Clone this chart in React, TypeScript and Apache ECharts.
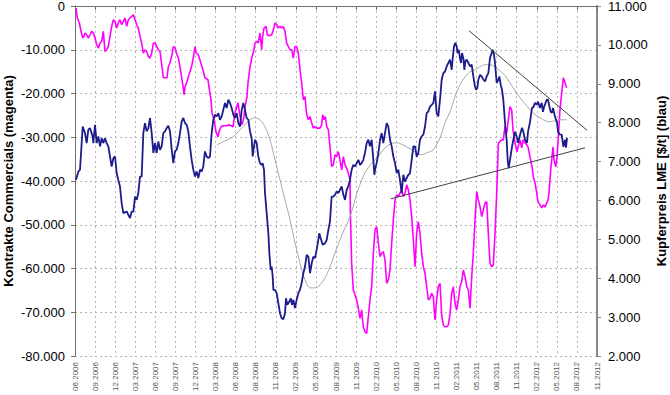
import React, { useEffect, useRef } from "react";
import * as echarts from "echarts";

// x positions are months since 06.2006 (tick every 3 months)
const tickLabels = ["06.2006","09.2006","12.2006","03.2007","06.2007","09.2007","12.2007","03.2008","06.2008","08.2008","11.2008","02.2009","05.2009","08.2009","11.2009","02.2010","05.2010","08.2010","11.2010","02.2011","05.2011","08.2011","11.2011","02.2012","05.2012","08.2012","11.2012"];

// Kupferpreis LME [$/t] (blau) – right axis
const copperPrice: [number, number][] = [
[0.15,6530],[0.5,6740],[0.75,6790],[1.15,7900],[1.49,7730],[1.74,7475],[1.99,7820],[2.24,7860],[2.64,7645],[2.74,7475],[2.99,7945],[3.24,7475],[3.49,7645],[3.74,7390],[3.99,7600],[4.23,7475],[4.48,7600],[4.73,7475],[4.98,7390],[5.23,7130],[5.48,6870],[5.73,7090],[5.98,7130],[6.23,6700],[6.47,6530],[6.72,6360],[6.97,5930],[7.22,5675],[7.72,5715],[7.97,5630],[8.22,5545],[8.47,5715],[8.72,5715],[8.97,6100],[9.22,6015],[9.46,6190],[9.71,6615],[9.96,6615],[10.21,7730],[10.46,7990],[10.71,7775],[10.96,7860],[11.21,8120],[11.46,7730],[11.71,7220],[11.96,7475],[12.21,7220],[12.45,7515],
[12.70,7300],[12.95,7390],[13.20,7730],[13.45,7775],[13.70,7860],[13.95,7920],[14.20,7775],[14.45,7305],[14.69,6960],[14.94,7260],[15.19,7305],[15.44,7475],[15.69,7730],[15.94,8030],[16.19,8120],[16.44,7990],[16.69,7945],[16.93,7775],[17.18,7390],[17.43,7045],[17.68,6790],[17.93,6615],[18.18,6745],[18.43,6575],[18.68,6790],[18.93,6745],[19.17,6875],[19.42,7260],[19.67,7130],[19.92,7090],[20.17,7130],[20.42,7730],[20.67,8075],[20.92,8205],[21.17,8160],[21.42,8245],[21.67,8075],[21.92,8160],[22.16,8330],[22.41,8505],[22.66,8375],[22.91,8590],[23.16,8505],[23.41,8375],[23.66,8205],[23.91,8120],[24.16,8245],[24.41,7990],[24.66,7900],[24.91,8330],[25.15,8505],[25.40,8330],[25.65,8120],[25.90,8075],[26.15,7775],[26.40,7600],[26.55,7130],[26.75,7390],[26.90,7560],
[27.15,7475],[27.39,7130],[27.64,6960],[27.89,6915],[28.04,6960],[28.24,6790],[28.39,6190],[28.64,5675],[28.89,5160],[29.04,4645],[29.24,4215],[29.39,4300],[29.54,4045],[29.64,3700],[29.89,3700],[30.13,3615],[30.38,3360],[30.63,3100],[30.88,2970],[31.13,2945],[31.38,3100],[31.53,3485],[31.73,3315],[32.03,3400],[32.23,3485],[32.43,3315],[32.63,3445],[32.87,3230],[33.12,3445],[33.37,3615],[33.62,3700],[33.87,3875],[34.12,4130],[34.37,4300],[34.62,4600],[34.87,4555],[35.12,4130],[35.37,4385],[35.61,4555],[35.86,4515],[36.11,4730],[36.36,4985],[36.51,5160],[36.71,5030],[37.01,4860],[37.36,4900],[37.61,4985],[37.86,5245],[38.10,5460],[38.35,6100],[38.60,6100],[38.85,6145],[39.10,6230],[39.35,6190],[39.60,6275],[39.85,6360],[40.10,6145],[40.35,6015],[40.60,6275],[40.84,6360],[41.09,6530],
[41.34,6790],[41.59,6915],[41.84,6875],[42.09,6960],[42.34,7045],[42.59,6915],[42.84,6960],[43.08,7045],[43.33,7220],[43.58,7475],[43.83,7560],[44.08,7390],[44.33,7560],[44.58,7045],[44.73,6660],[44.93,6875],[45.08,6960],[45.33,7220],[45.58,7560],[45.82,7730],[46.07,7475],[46.32,7730],[46.57,7990],[46.82,7900],[47.07,7560],[47.32,7390],[47.57,7130],[47.82,6960],[48.07,6705],[48.31,6790],[48.56,6530],[48.81,6190],[49.06,6660],[49.31,6485],[49.56,6575],[49.81,6660],[50.06,6705],[50.31,7045],[50.56,7390],[50.81,7390],[51.05,7130],[51.30,7220],[51.55,7560],[51.80,7645],[52.05,7690],[52.30,7900],[52.55,8245],[52.80,8290],[53.05,8415],[53.30,8460],[53.54,8505],[53.79,8805],[54.04,8245],[54.29,8160],[54.54,8590],[54.79,9105],[55.04,9275],[55.29,9315],
[55.54,9445],[55.79,9535],[56.04,9620],[56.29,9360],[56.44,9660],[56.63,9960],[56.83,10050],[57.03,9960],[57.18,9790],[57.33,9875],[57.53,9660],[57.68,9535],[57.83,9790],[58.03,9660],[58.18,9360],[58.33,9575],[58.53,9620],[58.78,9535],[59.03,9445],[59.28,9490],[59.52,9190],[59.77,8930],[59.92,8845],[60.12,8890],[60.27,9105],[60.52,9230],[60.77,9190],[61.02,9105],[61.27,9060],[61.52,9190],[61.76,9275],[62.01,9660],[62.26,9790],[62.41,9875],[62.61,9745],[62.76,9535],[63.01,9020],[63.26,9105],[63.41,9190],[63.61,8975],[63.81,8845],[64.00,8590],[64.15,8245],[64.30,7900],[64.50,7560],[64.65,7045],[64.80,6830],[65.00,7045],
[65.30,7380],[65.50,7560],[65.75,7765],[66.00,7640],[66.20,7480],[66.50,7690],[66.80,7870],[66.99,7765],[67.24,7560],[67.54,7480],[67.69,7765],[67.99,8020],[68.29,8380],[68.49,8400],[68.74,8510],[68.99,8460],[69.19,8540],[69.49,8380],[69.74,8510],[69.93,8280],[70.08,8400],[70.49,8590],[70.68,8590],[70.83,8460],[71.08,8280],[71.28,8250],[71.43,8380],[71.73,8150],[72.03,8000],[72.18,7765],[72.47,7690],[72.73,7690],[72.97,7380],[73.22,7560],[73.37,7355],[73.52,7610]
];

// Kontrakte Commercials (magenta) – left axis
const commercials: [number, number][] = [
[0.15,-500],[0.35,-2750],[0.65,-3890],[0.85,-5420],[1.15,-7320],[1.34,-6955],[1.49,-6180],[1.74,-6570],[1.99,-7320],[2.24,-6570],[2.49,-5810],[2.74,-6180],[2.99,-7320],[3.24,-8855],[3.49,-9610],[3.74,-8465],[3.99,-8100],[4.23,-5810],[4.48,-10390],[4.73,-10000],[4.98,-9245],[5.23,-6955],[5.48,-4670],[5.73,-3135],[5.98,-3525],[6.23,-5035],[6.47,-3890],[6.72,-3135],[6.97,-4280],[7.22,-3525],[7.47,-2745],[7.72,-4670],[7.97,-3135],[8.22,-2745],[8.47,-2380],[8.72,-1990],[8.97,-3135],[9.22,-4280],[9.46,-5035],[9.71,-6955],[9.96,-8465],[10.21,-10755],[10.46,-10000],[10.71,-10390],[10.96,-11530],[11.21,-11900],[11.46,-10755],[11.71,-8465],[11.96,-8465],[12.21,-9245],[12.45,-10000],[12.70,-10390],
[13.00,-13890],[13.20,-16405],[13.75,-16405],[13.94,-13890],[14.20,-12975],[14.49,-11140],[14.69,-9310],[14.94,-9540],[15.24,-11140],[15.44,-11830],[15.69,-13890],[15.99,-16860],[16.18,-18695],[16.29,-20295],[16.44,-18465],[16.74,-17320],[16.93,-16175],[17.18,-15030],[17.48,-13430],[17.68,-11830],[17.93,-9310],[18.08,-10685],[18.43,-11140],[18.98,-13890],[19.42,-16405],[19.87,-16860],[20.02,-18465],[20.32,-21440],[20.47,-24415],[20.77,-26015],[21.07,-28760],[21.37,-29905],[21.52,-28760],[21.82,-27615],[22.12,-27385],[22.71,-27385],[23.01,-27160],[23.31,-27385],[23.61,-27615],[23.91,-24415],[24.36,-22125],[24.51,-23725],[24.81,-26470],[24.96,-27160],[25.25,-25325],[25.40,-23040],[25.70,-20750],[25.85,-17550],[26.15,-13890],[26.45,-11600],[26.64,-10755],
[26.90,-8465],[27.15,-8100],[27.39,-8465],[27.64,-6180],[27.89,-10000],[28.04,-6955],[28.24,-5035],[28.54,-4670],[28.74,-6570],[29.04,-6795],[29.39,-6570],[29.64,-5420],[29.89,-3890],[30.13,-4280],[30.38,-5035],[30.63,-4670],[30.88,-5035],[31.13,-4670],[31.38,-5810],[31.63,-8465],[31.87,-9245],[32.13,-10000],[32.38,-10000],[32.62,-11900],[32.87,-9245],[33.13,-9245],[33.37,-10755],[33.62,-14575],[33.87,-17620],[34.12,-21440],[34.37,-20685],[34.62,-24870],[34.87,-26015],[35.12,-25260],[35.37,-26770],[35.61,-27915],[35.86,-27550],[36.11,-27915],[36.36,-27915],[36.61,-27915],[36.86,-27160],[37.01,-24870],[37.21,-26015],[37.40,-25260],[37.61,-27550],[37.86,-28305],[38.10,-32125],[38.35,-36700],[38.60,-36310],[38.85,-34020],[39.10,-34410],[39.35,-33270],[39.60,-35165],[39.85,-37455],[40.10,-34410],[40.35,-36310],[40.60,-37065],[40.84,-38210],[41.09,-39745],[41.15,-47290],
[41.34,-58800],[41.59,-64910],[42.09,-67200],[42.34,-69100],[42.59,-71385],[42.84,-69485],[43.08,-73310],[43.33,-74450],[43.58,-74820],[43.83,-71020],[44.08,-67200],[44.33,-64155],[44.58,-56515],[44.83,-51185],[45.08,-50430],[45.33,-54225],[45.58,-57290],[45.82,-56515],[46.07,-56150],[46.32,-58045],[46.57,-63380],[46.82,-62625],[47.07,-60335],[47.32,-54225],[47.57,-48895],[47.82,-44320],[48.07,-43175],[48.31,-43565],[48.56,-42785],[48.81,-42030],[49.06,-43565],[49.31,-42785],[49.56,-40885],[49.81,-42030],[50.06,-44320],[50.31,-48140],[50.56,-53470],[50.81,-59580],[51.05,-51940],[51.30,-49285],[51.55,-51940],[51.80,-56515],[52.05,-59580],[52.30,-61090],[52.55,-64155],[52.80,-67200],[53.05,-66810],[53.30,-65665],[53.54,-66420],[53.79,-71775],[54.04,-67200],[54.29,-64155],[54.54,-63380],
[54.79,-70630],[55.04,-72920],[55.29,-73310],[55.54,-73310],[55.79,-72920],[56.04,-70245],[56.29,-65665],[56.53,-64155],[56.78,-67955],[57.03,-69485],[57.28,-67200],[57.53,-64155],[57.78,-63010],[58.03,-60335],[58.28,-61870],[58.53,-64155],[58.78,-64910],[59.03,-69100],[59.28,-61870],[59.52,-56515],[59.77,-48895],[60.03,-42420],[60.27,-44320],[60.52,-45850],[60.77,-48140],[61.02,-46605],[61.27,-45075],[61.52,-44710],[61.76,-51940],[62.01,-58800],[62.26,-59580],[62.51,-59190],[62.76,-51940],[63.01,-42785],[63.26,-31345],[63.51,-30980],[63.76,-30590],[64.00,-30590],[64.25,-27550],[64.50,-29060],[64.75,-26015],[65.00,-22970],[65.25,-23725],
[65.45,-28300],[65.75,-31275],[66.05,-33335],[66.25,-31960],[66.50,-30590],[66.75,-32420],[66.95,-30590],[67.24,-31275],[67.49,-31735],[67.69,-32190],[67.99,-34480],[68.29,-36770],[68.49,-39055],[68.74,-40430],[68.99,-42715],[69.19,-44775],[69.49,-45460],[69.74,-46150],[69.98,-45460],[70.24,-45920],[70.49,-45005],[70.68,-44320],[70.83,-42715],[71.08,-37455],[71.28,-34480],[71.43,-32190],[71.58,-35165],[71.83,-36770],[72.03,-34480],[72.22,-29905],[72.47,-23725],[72.73,-19835],[72.97,-16405],[73.22,-17550],[73.47,-18695]
];

// grey moving average of the copper price (right axis)
const copperAverage: [number, number][] = [
[21.22,7431],[22.41,7534],[23.61,7637],[25.10,7894],[26.15,8074],[26.90,8125],[27.64,8074],[28.39,7894],[29.14,7560],[29.89,7045],[30.63,6531],[31.38,6016],[32.13,5501],[32.87,4910],[33.62,4395],[34.37,3958],[35.12,3752],[35.86,3752],[36.61,3829],[37.36,4009],[38.10,4292],[38.85,4653],[39.60,4987],[40.35,5296],[41.09,5579],[42.29,6273],[43.33,6710],[44.38,6968],[45.28,7122],[46.32,7354],[47.37,7470],[48.12,7480],[48.86,7440],[49.76,7360],[50.81,7251],[51.55,7174],[52.60,7225],[53.50,7303],[54.54,7611],[55.29,7997],[56.04,8280],[56.78,8666],[57.53,8975],[58.28,9181],[59.03,9310],[59.77,9361],[60.52,9438],[61.27,9490],[62.01,9490],[62.76,9438],[63.51,9335],[64.25,9207],[65.00,9026],[65.75,8820],[66.50,8640],[67.24,8486],[67.99,8332],[68.74,8203],[69.49,8126],[70.24,8049],[70.98,8023],[71.73,8049],[72.47,8075],[73.52,8075]
];

// hand-drawn trend lines (right axis)
const upperTrend: [number, number][] = [[58.88,10364],[76.51,7804]];
const lowerTrend: [number, number][] = [[47.18,6042],[76.21,7354]];

const FONT = 'Arial, "Liberation Sans", sans-serif';

function fmt(v: number): string {
  const s = Math.round(Math.abs(v)).toString();
  const parts: string[] = [];
  for (let i = s.length; i > 0; i -= 3) parts.unshift(s.substring(Math.max(0, i - 3), i));
  return (v < 0 ? "-" : "") + parts.join(".");
}

export default function App() {
  const ref = useRef<HTMLDivElement>(null);
  useEffect(() => {
    if (!ref.current) return;
    const chart = echarts.init(ref.current, undefined, { renderer: "svg" });
    const dotted = { show: true, lineStyle: { color: "#b4b4b4", type: [2, 3] as any, width: 1 } };
    chart.setOption({
      animation: false,
      backgroundColor: "#ffffff",
      grid: { left: 75, right: 73, top: 6, bottom: 39, containLabel: false, outerBoundsMode: "none" },
      xAxis: {
        type: "value",
        min: 0,
        max: 78,
        interval: 3,
        axisLine: { show: true, lineStyle: { color: "#707070", width: 1 } },
        axisTick: { show: true, length: 4, lineStyle: { color: "#707070" } },
        axisLabel: {
          rotate: 90,
          fontSize: 8,
          color: "#555555",
          fontFamily: FONT,
          margin: 6,
          formatter: (v: number) => tickLabels[Math.round(v / 3)] ?? "",
        },
        splitLine: dotted,
      },
      yAxis: [
        {
          type: "value",
          min: -80000,
          max: 0,
          interval: 10000,
          position: "left",
          name: "Kontrakte Commercials (magenta)",
          nameLocation: "middle",
          nameRotate: 90,
          nameGap: 60,
          nameMoveOverlap: false,
          nameTextStyle: { fontSize: 13, fontWeight: "bold", color: "#000", fontFamily: FONT },
          axisLine: { show: true, lineStyle: { color: "#707070", width: 1 } },
          axisTick: { show: true, length: 4, lineStyle: { color: "#707070" } },
          axisLabel: { fontSize: 13, color: "#000", fontFamily: FONT, margin: 10, formatter: (v: number) => fmt(v) },
          splitLine: dotted,
        },
        {
          type: "value",
          min: 2000,
          max: 11000,
          interval: 1000,
          position: "right",
          name: "Kupferpreis LME [$/t] (blau)",
          nameLocation: "middle",
          nameRotate: 90,
          nameGap: 58,
          nameMoveOverlap: false,
          nameTextStyle: { fontSize: 13, fontWeight: "bold", color: "#000", fontFamily: FONT },
          axisLine: { show: true, lineStyle: { color: "#888888", width: 2 } },
          axisTick: { show: true, length: 4, lineStyle: { color: "#888888" } },
          axisLabel: { fontSize: 13, color: "#000", fontFamily: FONT, margin: 11, formatter: (v: number) => fmt(v) },
          splitLine: { show: false },
        },
      ],
      series: [
        {
          type: "line",
          yAxisIndex: 0,
          data: commercials,
          showSymbol: false,
          lineStyle: { color: "#ff00ff", width: 1.6 },
          itemStyle: { color: "#ff00ff" },
        },
        {
          type: "line",
          yAxisIndex: 1,
          data: copperAverage,
          showSymbol: false,
          smooth: 0.3,
          lineStyle: { color: "#a8a8a8", width: 1 },
        },
        {
          type: "line",
          yAxisIndex: 1,
          data: copperPrice,
          showSymbol: false,
          lineStyle: { color: "#1c1c8c", width: 1.8 },
          itemStyle: { color: "#1c1c8c" },
        },
        {
          type: "line",
          yAxisIndex: 1,
          data: upperTrend,
          showSymbol: false,
          lineStyle: { color: "#404040", width: 1 },
        },
        {
          type: "line",
          yAxisIndex: 1,
          data: lowerTrend,
          showSymbol: false,
          lineStyle: { color: "#404040", width: 1 },
        },
      ],
    });
    return () => chart.dispose();
  }, []);
  return (
    <div
      ref={ref}
      style={{ position: "fixed", left: 0, top: 0, width: 670, height: 395, background: "#fff" }}
    />
  );
}
